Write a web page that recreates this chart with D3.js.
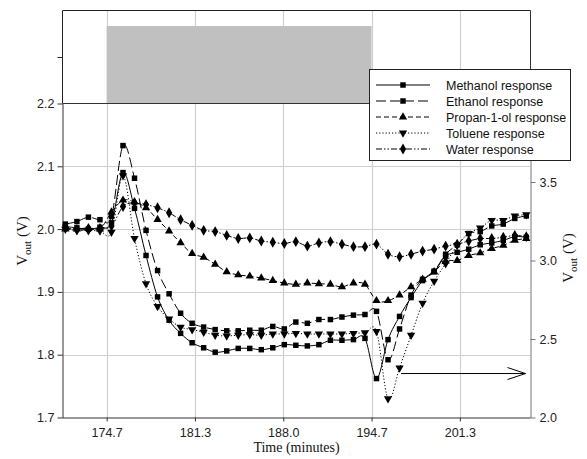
<!DOCTYPE html>
<html><head><meta charset="utf-8">
<script src="https://cdn.jsdelivr.net/npm/d3@7"></script>
<style>
body{margin:0;background:#fff;}
svg{display:block;}
</style>
</head><body>
<svg id="c" width="587" height="459"></svg>
<script>
// ---- data ----
const time = [171.55,172.42,173.29,174.16,175.03,175.90,176.77,177.64,178.51,179.38,180.25,181.12,181.99,182.86,183.73,184.60,185.47,186.34,187.21,188.08,188.95,189.82,190.69,191.56,192.43,193.30,194.17,195.04,195.91,196.78,197.65,198.52,199.39,200.26,201.13,202.00,202.87,203.74,204.61,205.48,206.35];
const methanol = [2.004,2.002,2.000,2.003,2.010,2.090,2.033,1.958,1.892,1.855,1.834,1.819,1.811,1.804,1.806,1.810,1.810,1.808,1.811,1.816,1.815,1.814,1.816,1.823,1.823,1.824,1.826,1.762,1.824,1.861,1.891,1.918,1.932,1.957,1.963,1.968,1.975,1.978,1.982,1.988,1.987];
const ethanol = [2.008,2.012,2.019,2.015,2.020,2.133,2.081,1.998,1.934,1.897,1.866,1.850,1.844,1.840,1.838,1.838,1.839,1.839,1.845,1.841,1.852,1.850,1.856,1.856,1.860,1.863,1.864,1.869,1.792,1.841,1.895,1.920,1.933,1.960,1.975,1.993,1.996,2.005,2.008,2.017,2.021];
const propanol = [2.000,2.000,2.002,2.000,2.027,2.046,2.043,2.034,2.015,1.997,1.978,1.961,1.955,1.944,1.932,1.927,1.925,1.922,1.918,1.914,1.912,1.914,1.913,1.912,1.908,1.914,1.912,1.886,1.886,1.895,1.908,1.920,1.932,1.949,1.950,1.958,1.962,1.969,1.974,1.982,1.985];
// toluene is read against the right-hand axis (see arrow)
const toluene = [3.200,3.192,3.192,3.188,3.180,3.540,3.140,2.852,2.708,2.628,2.576,2.560,2.544,2.524,2.520,2.524,2.528,2.524,2.532,2.532,2.536,2.532,2.532,2.532,2.532,2.536,2.540,2.548,2.120,2.316,2.524,2.728,2.868,2.980,3.096,3.172,3.208,3.256,3.256,3.284,3.292];
const water = [2.002,1.999,1.999,2.001,2.005,2.036,2.042,2.039,2.034,2.026,2.015,2.006,1.998,1.996,1.990,1.985,1.986,1.981,1.979,1.977,1.980,1.973,1.978,1.980,1.976,1.972,1.972,1.976,1.960,1.956,1.960,1.965,1.968,1.973,1.976,1.981,1.985,1.985,1.987,1.990,1.988];
const seriesNames = ["Methanol response","Ethanol response","Propan-1-ol response","Toluene response","Water response"];
const xTicks = [174.667,181.333,188.0,194.667,201.333];
const xTickLabels = ["174.7","181.3","188.0","194.7","201.3"];
const leftTicks = [1.7,1.8,1.9,2.0,2.1,2.2];
const rightTicks = [2.0,2.5,3.0,3.5];
const exposureStart = 174.667, exposureEnd = 194.667, exposureLevel = 1;

// ---- layout ----
const svg = d3.select("#c");
const L = 62.5, R = 530.5, T0 = 10.5, T = 103.5, B = 417.5;
const x = d3.scaleLinear().domain([171.333, 206.667]).range([L, R]);
const yL = d3.scaleLinear().domain([1.7, 2.2]).range([B, T]);
const yR = d3.scaleLinear().domain([2.0, 4.0]).range([B, T]);
const yTop = d3.scaleLinear().domain([0, 1.2]).range([T, T0]);

const grid = "#d0d0d0";
// vertical gridlines
svg.append("g").selectAll("line").data(xTicks).join("line")
  .attr("x1", d => Math.round(x(d)) + 0.5).attr("x2", d => Math.round(x(d)) + 0.5)
  .attr("y1", T0).attr("y2", B).attr("stroke", grid).attr("stroke-width", 1.2);
// horizontal gridlines
svg.append("g").selectAll("line").data(leftTicks.filter(d => d > 1.7 && d < 2.2)).join("line")
  .attr("x1", L).attr("x2", R)
  .attr("y1", d => Math.round(yL(d)) + 0.5).attr("y2", d => Math.round(yL(d)) + 0.5)
  .attr("stroke", grid).attr("stroke-width", 1.2);

// exposure bar in top panel
svg.append("rect")
  .attr("x", x(exposureStart)).attr("width", x(exposureEnd) - x(exposureStart))
  .attr("y", yTop(exposureLevel)).attr("height", yTop(0) - yTop(exposureLevel))
  .attr("fill", "#c0c0c0");

// frame
const frame = svg.append("g").attr("stroke", "#222").attr("stroke-width", 1).attr("fill", "none");
frame.append("line").attr("x1", L).attr("x2", R).attr("y1", T0).attr("y2", T0);
frame.append("line").attr("x1", L).attr("x2", L).attr("y1", T0).attr("y2", T);
frame.append("line").attr("x1", L).attr("x2", R).attr("y1", T).attr("y2", T).attr("stroke", "#333");
frame.append("line").attr("x1", R).attr("x2", R).attr("y1", T0).attr("y2", T).attr("stroke", "#333");
frame.append("line").attr("x1", L - 5).attr("x2", L).attr("y1", Math.round(yTop(0.6)) + 0.5).attr("y2", Math.round(yTop(0.6)) + 0.5);

// axes
const fontTick = "Liberation Sans, Arial, sans-serif";
const gxa = svg.append("g").attr("transform", `translate(0,${B})`)
  .call(d3.axisBottom(x).tickValues(xTicks).tickFormat((d, i) => xTickLabels[i]).tickSizeInner(4).tickSizeOuter(0).tickPadding(7));
const gla = svg.append("g").attr("transform", `translate(${L},0)`)
  .call(d3.axisLeft(yL).tickValues(leftTicks).tickFormat(d3.format(".1f")).tickSizeInner(5).tickSizeOuter(0).tickPadding(3));
const gra = svg.append("g").attr("transform", `translate(${R},0)`)
  .call(d3.axisRight(yR).tickValues(rightTicks).tickFormat(d3.format(".1f")).tickSizeInner(5).tickSizeOuter(0).tickPadding(4));
[gxa, gla, gra].forEach(g => {
  g.selectAll("text").attr("font-family", fontTick).attr("font-size", 12.5).attr("fill", "#222");
  g.selectAll(".domain").attr("stroke", "#333");
  g.selectAll(".tick line").attr("stroke", "#333");
});
gra.select(".domain").attr("stroke", "#777");
gra.selectAll(".tick line").attr("stroke", "#777");
gxa.select(".domain").attr("d", `M${L},0.5H${R}`);

// axis titles
const serif = "Liberation Serif, Times New Roman, serif";
svg.append("text").attr("x", (L + R) / 2).attr("y", 452).attr("text-anchor", "middle")
  .attr("font-family", serif).attr("font-size", 14).attr("fill", "#111").text("Time (minutes)");
function vTitle(cx, cy) {
  const t = svg.append("text").attr("transform", `translate(${cx},${cy}) rotate(-90)`)
    .attr("text-anchor", "middle").attr("font-family", serif).attr("font-size", 15).attr("fill", "#111");
  t.append("tspan").text("V");
  t.append("tspan").attr("font-size", 11).attr("dy", 4).text("out");
  t.append("tspan").attr("dy", -4).text(" (V)");
}
vTitle(27, 241);
vTitle(573, 258);

// ---- series ----
const series = [
  {name: seriesNames[0], values: methanol, y: yL, dash: null, sym: d3.symbolSquare, size: 30},
  {name: seriesNames[1], values: ethanol, y: yL, dash: "10,4", sym: d3.symbolSquare, size: 30},
  {name: seriesNames[2], values: propanol, y: yL, dash: "5,3", sym: d3.symbolTriangle, size: 30},
  {name: seriesNames[3], values: toluene, y: yR, dash: "1.2,2", sym: d3.symbolTriangle, size: 30, flip: true},
  {name: seriesNames[4], values: water, y: yL, dash: "6,2,1.5,2,1.5,2", sym: d3.symbolDiamond, size: 34},
];
const plot = svg.append("g");
series.forEach(s => {
  const pts = time.map((t, i) => [x(t), s.y(s.values[i])]);
  plot.append("path").attr("d", d3.line().curve(d3.curveCardinal.tension(0))(pts))
    .attr("fill", "none").attr("stroke", "#000").attr("stroke-width", 1)
    .attr("stroke-dasharray", s.dash);
  plot.append("g").selectAll("path").data(pts).join("path")
    .attr("d", d3.symbol().type(s.sym).size(s.size))
    .attr("transform", d => `translate(${d[0]},${d[1]})${s.flip ? " rotate(180)" : ""}`)
    .attr("fill", "#000");
});

// arrow pointing to right axis (toluene)
const arrowY = yR(2.28);
svg.append("line").attr("x1", x(196.9)).attr("x2", R - 5).attr("y1", arrowY).attr("y2", arrowY)
  .attr("stroke", "#000").attr("stroke-width", 1);
svg.append("path").attr("d", `M${R - 23},${arrowY - 6}L${R - 5},${arrowY}L${R - 23},${arrowY + 6}`)
  .attr("fill", "none").attr("stroke", "#000").attr("stroke-width", 1);

// ---- legend ----
const lg = svg.append("g");
lg.append("rect").attr("x", 369.5).attr("y", 69.5).attr("width", 201).attr("height", 91)
  .attr("fill", "#fff").attr("stroke", "#222").attr("stroke-width", 1);
series.forEach((s, i) => {
  const yy = 85 + i * 16;
  lg.append("line").attr("x1", 376).attr("x2", 430).attr("y1", yy).attr("y2", yy)
    .attr("stroke", "#000").attr("stroke-width", 1).attr("stroke-dasharray", s.dash);
  lg.append("path").attr("d", d3.symbol().type(s.sym).size(s.size))
    .attr("transform", `translate(403,${yy})${s.flip ? " rotate(180)" : ""}`).attr("fill", "#000");
  lg.append("text").attr("x", 446).attr("y", yy + 4.5).attr("font-family", fontTick)
    .attr("font-size", 12.5).attr("fill", "#111").text(s.name);
});
</script>
</body></html>
